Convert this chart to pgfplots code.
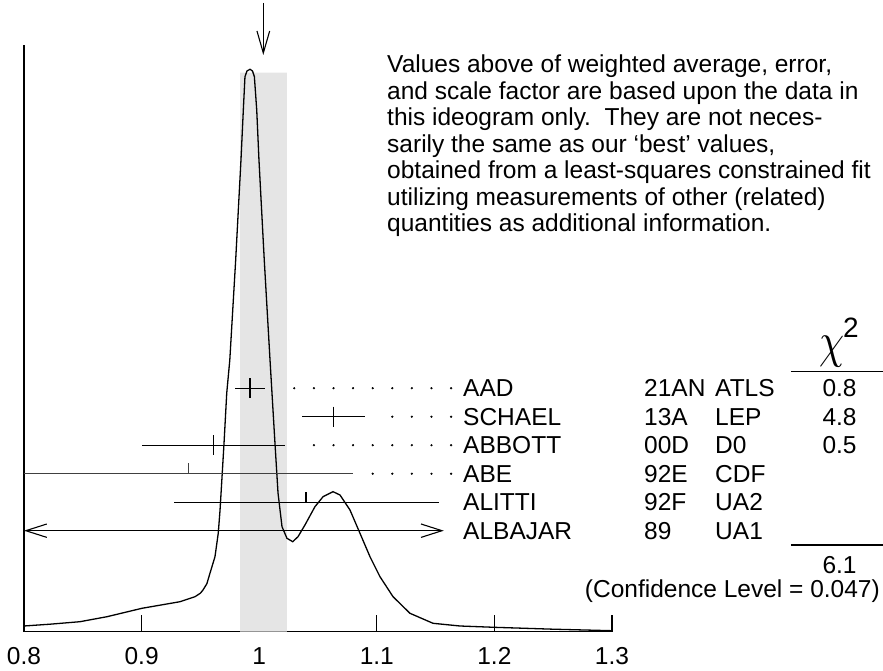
\documentclass[border=0pt]{standalone}
\usepackage{graphicx}
\usepackage{fontspec}
\setmainfont{Liberation Sans}
\usepackage{pgfplots}
\pgfplotsset{compat=1.18}
\usetikzlibrary{arrows.meta}
\newcommand\tf{\fontsize{24.5}{26.5}\selectfont}
\begin{document}
\begin{tikzpicture}[
    lbl/.style={anchor=base west, inner sep=0pt, font=\tf},
    val/.style={anchor=base, inner sep=0pt, font=\tf}]
\useasboundingbox (-24pt,-39.3pt) rectangle (859pt,631.7pt);
\begin{axis}[
    scale only axis, width=588pt, height=586.7pt,
    xmin=0.8, xmax=1.3, ymin=0, ymax=586.7,
    axis x line=bottom, axis y line=left, axis line style={-, line width=1.1pt},
    xtick={0.8,0.9,1,1.1,1.2,1.3}, xticklabels={0.8,0.9,1,1.1,1.2,1.3},
    ytick=\empty, tick align=inside, major tick length=17pt,
    tick style={line width=1.1pt, black},
    xticklabel style={font=\tf, anchor=base, inner sep=0pt, yshift=-33.3pt},
    clip=false,
]
% weighted average band
\addplot[fill=gray!20, draw=none] coordinates {(0.9837,0) (0.9837,559) (1.0236,559) (1.0236,0)} \closedcycle;
% ideogram
\addplot[line width=1.3pt] coordinates {
(0.8,5.7) (0.8221,7.5) (0.8476,10) (0.8706,15) (0.9003,23.4) (0.9327,30) (0.9454,35)
(0.9500,38.5) (0.9522,41.7) (0.9555,48) (0.9582,58.7) (0.9624,75) (0.9652,98.7)
(0.9667,121.7) (0.9684,155) (0.9701,188.7) (0.9724,238.7) (0.9750,271.7)
(0.9800,371.7) (0.9845,471.7) (0.9865,521.7) (0.9879,555) (0.9896,560.7)
(0.9922,562.4) (0.9943,560.7) (0.9959,555) (0.9979,521.7) (0.9998,471.7)
(1.0043,371.7) (1.0092,271.7) (1.0134,188.7) (1.0160,138.7) (1.0194,105)
(1.0236,93.4) (1.0285,90) (1.0330,95) (1.0389,106.7) (1.0474,125) (1.0543,135)
(1.0628,140) (1.0687,136.7) (1.0772,121.7) (1.0857,98.4) (1.0942,75) (1.1027,55)
(1.1138,35) (1.1282,18.4) (1.1478,8.4) (1.1707,5.7) (1.1997,4.4) (1.2500,2.5) (1.3,1)
};
% measurements used in the average
\addplot[black, line width=1.1pt, only marks, mark=|, mark size=10pt,
    error bars/.cd, x dir=both, x explicit, error mark=none,
    error bar style={line width=1.1pt}] coordinates {
(0.9922,243.5) +- (0.0128,0)
(1.0630,215) +- (0.0269,0)
(0.9613,186.5) +- (0.0607,0)
};
% ABE
\addplot[black!75, line width=1.4pt] coordinates {(0.8,158) (1.0800,158)};
\addplot[black!75, line width=1.2pt] coordinates {(0.9400,158) (0.9400,168.7)};
% ALITTI
\addplot[black, line width=1.1pt] coordinates {(0.9276,129.5) (1.1531,129.5)};
\addplot[black, line width=1.1pt] coordinates {(1.0398,129.5) (1.0398,140)};
% ALBAJAR
\addplot[black, line width=1.1pt,
    {Straight Barb[length=21pt,width=13.4pt]}-{Straight Barb[length=21pt,width=13.4pt]}]
    coordinates {(0.8,101) (1.1570,101)};
% leader dots
\addplot[only marks, mark=*, mark size=0.9pt, black] coordinates {
(1.0298,243.5) (1.0465,243.5) (1.0632,243.5) (1.0798,243.5) (1.0965,243.5)
(1.1132,243.5) (1.1298,243.5) (1.1465,243.5) (1.1632,243.5)
(1.1132,215) (1.1298,215) (1.1465,215) (1.1632,215)
(1.0465,186.5) (1.0632,186.5) (1.0798,186.5) (1.0965,186.5)
(1.1132,186.5) (1.1298,186.5) (1.1465,186.5) (1.1632,186.5)
(1.0965,158) (1.1132,158) (1.1298,158) (1.1465,158) (1.1632,158)
};
% weighted average arrow
\addplot[black, line width=1.1pt, -{Straight Barb[length=22pt,width=12.7pt]}]
    coordinates {(1.0035,628.7) (1.0035,576.7)};
% note
\node[lbl] at (axis cs:1.1087,558.7) {Values above of weighted average, error,};
\node[lbl] at (axis cs:1.1087,532.2) {and scale factor are based upon the data in};
\node[lbl] at (axis cs:1.1087,505.7) {this ideogram only.\ \ They are not neces-};
\node[lbl] at (axis cs:1.1087,479.2) {sarily the same as our ‘best’ values,};
\node[lbl] at (axis cs:1.1087,452.7) {obtained from a least-squares constrained fit};
\node[lbl] at (axis cs:1.1087,426.2) {utilizing measurements of other (related)};
\node[lbl] at (axis cs:1.1087,399.7) {quantities as additional information.};
% labels
\node[lbl] at (axis cs:1.1733,234.8) {AAD};
\node[lbl] at (axis cs:1.1733,206.3) {SCHAEL};
\node[lbl] at (axis cs:1.1733,177.8) {ABBOTT};
\node[lbl] at (axis cs:1.1733,149.3) {ABE};
\node[lbl] at (axis cs:1.1733,120.8) {ALITTI};
\node[lbl] at (axis cs:1.1733,92.3) {ALBAJAR};
\node[lbl] at (axis cs:1.3272,234.8) {21AN};
\node[lbl] at (axis cs:1.3272,206.3) {13A};
\node[lbl] at (axis cs:1.3272,177.8) {00D};
\node[lbl] at (axis cs:1.3272,149.3) {92E};
\node[lbl] at (axis cs:1.3272,120.8) {92F};
\node[lbl] at (axis cs:1.3272,92.3) {89};
\node[lbl] at (axis cs:1.3876,234.8) {ATLS};
\node[lbl] at (axis cs:1.3876,206.3) {LEP};
\node[lbl] at (axis cs:1.3876,177.8) {D0};
\node[lbl] at (axis cs:1.3876,149.3) {CDF};
\node[lbl] at (axis cs:1.3876,120.8) {UA2};
\node[lbl] at (axis cs:1.3876,92.3) {UA1};
\node[val] at (axis cs:1.4935,234.8) {0.8};
\node[val] at (axis cs:1.4935,206.3) {4.8};
\node[val] at (axis cs:1.4935,177.8) {0.5};
\node[anchor=base, inner sep=0pt, font=\normalsize] at (axis cs:1.4875,274.3) {\scalebox{4}[4.96]{$\chi$}};
\node[anchor=base west, inner sep=0pt, font=\fontsize{28}{28}\selectfont] at (axis cs:1.4964,293.7) {2};
\draw[line width=1.1pt] (axis cs:1.4522,260) -- (axis cs:1.5304,260);
\draw[line width=1.1pt] (axis cs:1.4522,86.7) -- (axis cs:1.5304,86.7);
\node[val] at (axis cs:1.4935,58.4) {6.1};
\node[anchor=base east, inner sep=0pt, font=\tf] at (axis cs:1.5279,33.7) {(Confidence Level = 0.047)};
\end{axis}
\end{tikzpicture}
\end{document}
